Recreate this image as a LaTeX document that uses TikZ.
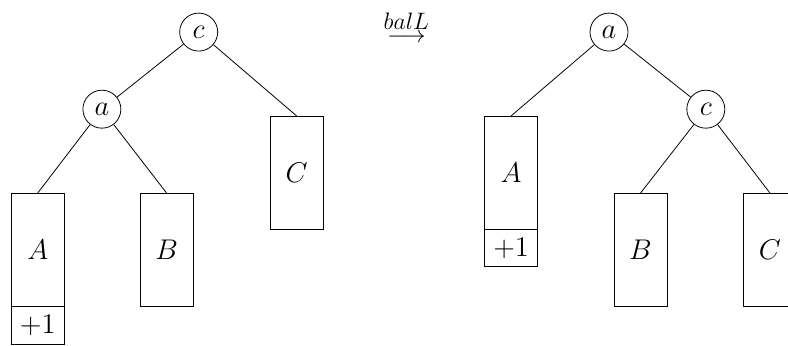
\documentclass[tikz,border=0pt]{standalone}
\usepackage{amsmath}
\tikzset{>=stealth}
\tikzset{
  knot/.style={draw, circle, minimum size=0.675cm, inner sep=0pt, font=\Large},
  subtree/.style={draw, rectangle, minimum width=0.94cm, minimum height=2cm, anchor=north, inner sep=0pt, font=\Large},
  extra/.style={draw, rectangle, minimum width=0.94cm, minimum height=0.66cm, anchor=north, inner sep=0pt, font=\Large}
}

\begin{document}
\begin{tikzpicture}
\useasboundingbox (0,0) rectangle (14.0,-6.13);
\clip (0,0) rectangle (14.0,-6.13);
\node[knot] (c1) at (3.53,-0.57) {$c$};
\node[knot] (a1) at (1.81,-1.94) {$a$};
\node[subtree] (A1) at (0.67,-3.43) {$A$};
\node[extra] (P1) at (A1.south) {$+1$};
\node[subtree] (B1) at (2.96,-3.43) {$B$};
\node[subtree] (C1) at (5.27,-2.06) {$C$};
\draw (c1) -- (a1);
\draw (c1) -- (C1.north);
\draw (a1) -- (A1.north);
\draw (a1) -- (B1.north);

\node[font=\large] (rot) at (7.22,-0.47) {$\overset{\textstyle balL}{\longrightarrow}$};

\node[knot] (a2) at (10.82,-0.57) {$a$};
\node[knot] (c2) at (12.54,-1.94) {$c$};
\node[subtree] (A2) at (9.08,-2.06) {$A$};
\node[extra] (P2) at (A2.south) {$+1$};
\node[subtree] (B2) at (11.38,-3.43) {$B$};
\node[subtree] (C2) at (13.68,-3.43) {$C$};
\draw (a2) -- (A2.north);
\draw (a2) -- (c2);
\draw (c2) -- (B2.north);
\draw (c2) -- (C2.north);
\end{tikzpicture}
\end{document}
